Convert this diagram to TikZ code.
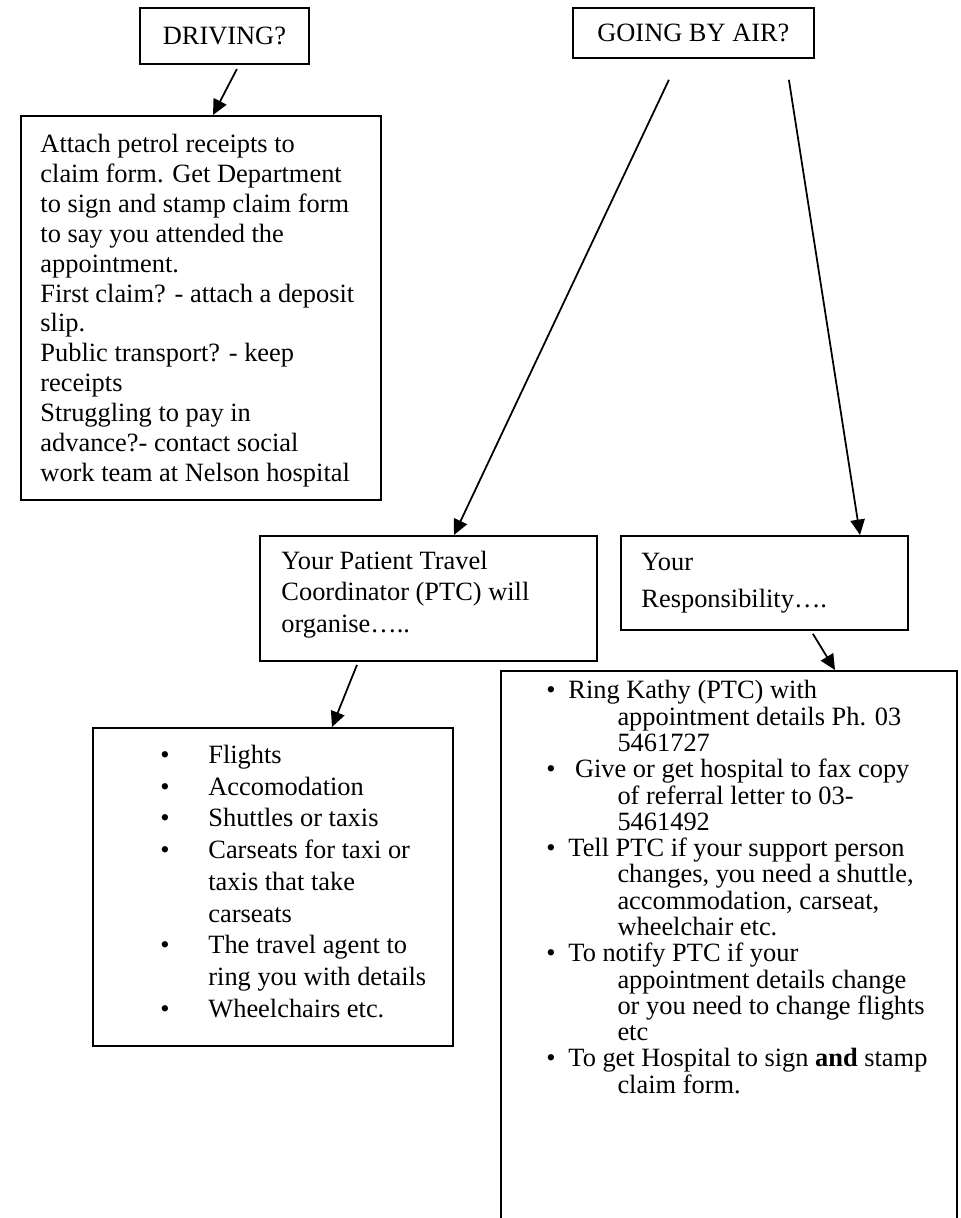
\documentclass[tikz,border=0pt]{standalone}
\usepackage{fontspec}
\setmainfont{Liberation Serif}
\usetikzlibrary{arrows.meta,calc}

\newcommand{\bul}{\makebox[10pt][l]{\textbullet}}
\newcommand{\ind}{\hspace*{32.3pt}}
\newcommand{\bigbul}{\makebox[21.8pt][l]{\large\textbullet}}
\newcommand{\bigind}{\hspace*{21.8pt}}

\begin{document}
\begin{tikzpicture}[
  x=0.4545pt, y=-0.4545pt,
  box/.style={draw, line width=0.85pt, anchor=north west, inner sep=0pt},
  head/.style={box, font=\fontsize{12}{14}\selectfont},
  txt/.style={anchor=north west, inner sep=0pt, align=left},
  link/.style={->, line width=0.8pt},
  >={Triangle[length=7pt,width=6.5pt]}
]
\useasboundingbox (0,0) rectangle (961,1218);
\clip (0,0) rectangle (961,1218);

\node[head, minimum width=76.8pt, minimum height=25.5pt] (drv) at (139,7) {DRIVING?};
\node[head, minimum width=109.5pt, minimum height=22.7pt] (air) at (572,7) {GOING BY AIR?};

\node[box, minimum width=163.6pt, minimum height=174.5pt] (drvbody) at (20,115) {};
\node[txt, font=\fontsize{12}{13.6}\selectfont] (drvtext) at (40,131)
  {\strut Attach petrol receipts to\\
   claim form. Get Department\\
   to sign and stamp claim form\\
   to say you attended the\\
   appointment.\\
   First claim? - attach a deposit\\
   slip.\\
   Public transport? - keep\\
   receipts\\
   Struggling to pay in\\
   advance?- contact social\\
   work team at Nelson hospital};

\node[box, minimum width=153.2pt, minimum height=56.8pt] (ptc) at (259,535) {};
\node[txt, font=\fontsize{12}{14.3}\selectfont] (ptctext) at (281,547)
  {\strut Your Patient Travel\\Coordinator (PTC) will\\organise…..};

\node[box, minimum width=130.4pt, minimum height=42.7pt] (resp) at (620,535) {};
\node[txt, font=\fontsize{12}{16.8}\selectfont] (resptext) at (641,544)
  {\strut Your\\Responsibility….};

\node[box, minimum width=163.6pt, minimum height=144.5pt] (org) at (92,727) {};
\node[txt, font=\fontsize{12}{14.4}\selectfont] (orgtext) at (160,741)
  {\strut\bigbul Flights\\
   \bigbul Accomodation\\
   \bigbul Shuttles or taxis\\
   \bigbul Carseats for taxi or\\
   \bigind taxis that take\\
   \bigind carseats\\
   \bigbul The travel agent to\\
   \bigind ring you with details\\
   \bigbul Wheelchairs etc.};

\node[box, minimum width=207.3pt, minimum height=259pt] (duty) at (500,670) {};
\node[txt, font=\fontsize{12}{11.95}\selectfont] (dutytext) at (546,680)
  {\strut\bul Ring Kathy (PTC) with\\
   \ind appointment details Ph. 03\\
   \ind 5461727\\
   \bul\hspace*{3pt}Give or get hospital to fax copy\\
   \ind of referral letter to 03-\\
   \ind 5461492\\
   \bul Tell PTC if your support person\\
   \ind changes, you need a shuttle,\\
   \ind accommodation, carseat,\\
   \ind wheelchair etc.\\
   \bul To notify PTC if your\\
   \ind appointment details change\\
   \ind or you need to change flights\\
   \ind etc\\
   \bul To get Hospital to sign \textbf{and} stamp\\
   \ind claim form.};

\draw[link] ($(drv.south)+(12.5,4)$) -- ($(drvbody.north west)+(193,0)$);
\draw[link] ($(air.south)+(-24.5,21)$) -- ($(ptc.north west)+(195,0)$);
\draw[link] ($(air.south)+(95.5,21)$) -- ($(resp.north west)+(240,0)$);
\draw[link] ($(ptc.south)+(-71.5,3)$) -- ($(org.north west)+(240,0)$);
\draw[link] ($(resp.south)+(48.5,3)$) -- ($(duty.north west)+(335,0)$);
\end{tikzpicture}
\end{document}
